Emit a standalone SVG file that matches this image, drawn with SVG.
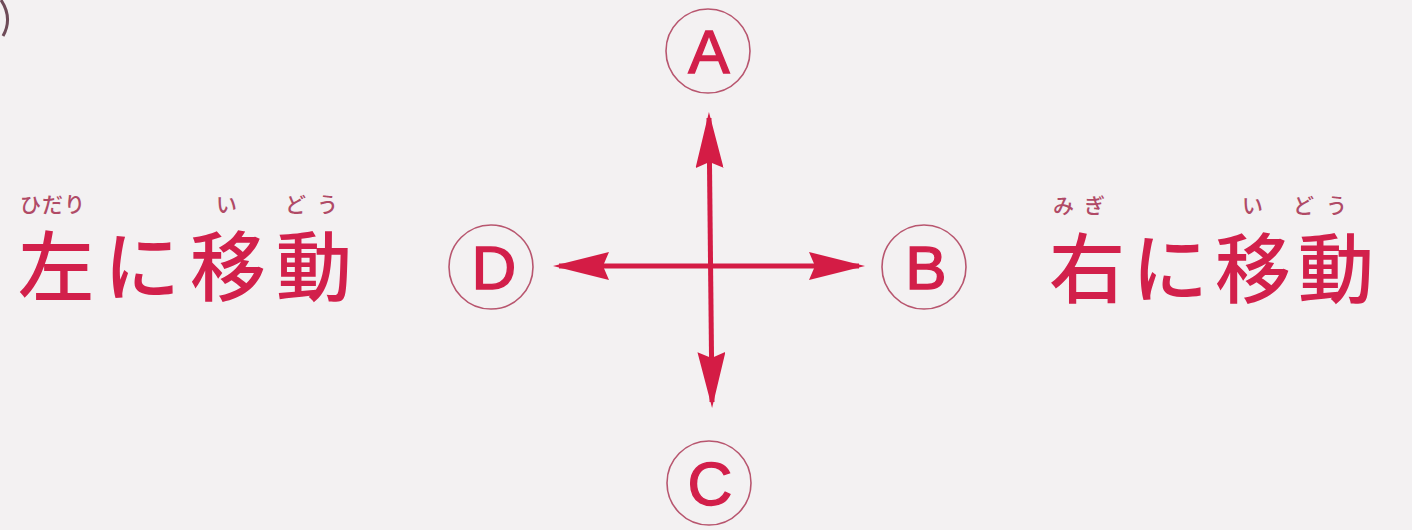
<svg xmlns="http://www.w3.org/2000/svg" width="1412" height="530" viewBox="0 0 1412 530">
  <style>
    .bg { fill: #f3f1f2; }
    .ring { fill: none; stroke: #b8566f; stroke-width: 1.6; }
    .letter { font-family: "Liberation Sans", Arial, sans-serif; font-size: 62px; fill: #d21f4a; stroke: #d21f4a; stroke-width: 1.4; text-anchor: middle; }
    .big { font-family: "Noto Sans CJK JP", "Noto Sans CJK SC", sans-serif; font-size: 76px; font-weight: 500; fill: #d2204b; }
    .ruby { font-family: "Noto Sans CJK JP", "Noto Sans CJK SC", sans-serif; font-size: 21px; font-weight: 500; fill: #b04a66; }
    .shaft { stroke: #d41c45; stroke-width: 5; fill: none; }
  </style>
  <defs>
    <marker id="head" viewBox="0 0 56 28" refX="50" refY="14" markerWidth="56" markerHeight="28" markerUnits="userSpaceOnUse" orient="auto-start-reverse">
      <path d="M0,0 L56,14 L0,28 L6,14 Z" fill="#d41c45"/>
    </marker>
  </defs>
  <rect class="bg" x="0" y="0" width="1412" height="530"/>
  <path d="M1,0 Q13,18 3,36" fill="none" stroke="#6e4b58" stroke-width="3"/>

  <g id="connectors">
    <line class="shaft" x1="709" y1="118" x2="712" y2="402" marker-start="url(#head)" marker-end="url(#head)"/>
    <line class="shaft" x1="559" y1="266" x2="859" y2="266" marker-start="url(#head)" marker-end="url(#head)"/>
  </g>

  <g id="node-A">
    <circle class="ring" cx="708" cy="51" r="42"/>
    <text class="letter" x="709" y="73">A</text>
  </g>
  <g id="node-B">
    <circle class="ring" cx="924" cy="267" r="42"/>
    <text class="letter" x="926" y="289">B</text>
  </g>
  <g id="node-C">
    <circle class="ring" cx="709" cy="483" r="42"/>
    <text class="letter" x="710" y="505">C</text>
  </g>
  <g id="node-D">
    <circle class="ring" cx="491" cy="267" r="42"/>
    <text class="letter" x="494" y="289">D</text>
  </g>

  <g id="label-left">
    <text class="ruby" x="20" y="212" letter-spacing="1">ひだり</text>
    <text class="ruby" x="216" y="212">い</text>
    <text class="ruby" x="285" y="212" letter-spacing="11">どう</text>
    <text class="big" x="18" y="295" letter-spacing="10">左に移動</text>
  </g>

  <g id="label-right">
    <text class="ruby" x="1053" y="213" letter-spacing="10">みぎ</text>
    <text class="ruby" x="1242" y="213">い</text>
    <text class="ruby" x="1293" y="213" letter-spacing="12">どう</text>
    <text class="big" x="1049" y="297" letter-spacing="7">右に移動</text>
  </g>
</svg>
